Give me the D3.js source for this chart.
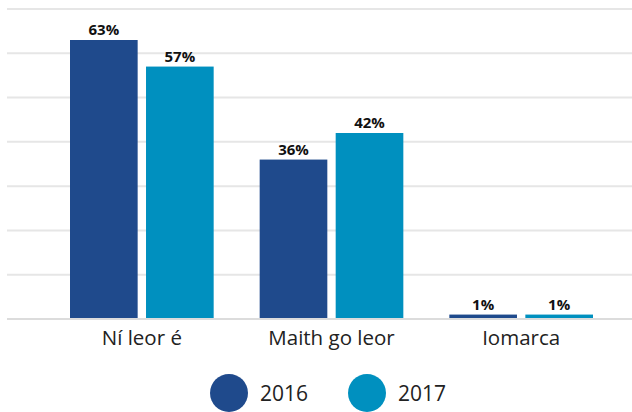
<!DOCTYPE html>
<html lang="ga">
<head>
<meta charset="utf-8"/>
<style>
    body { margin: 0; background: #fff; }
    svg { display: block; font-family: "Open Sans", sans-serif; }
    .grid line { stroke: #e6e6e6; stroke-width: 2px; }
    .val { font-size: 15px; font-weight: 700; fill: #111; text-anchor: middle; }
    .cat { font-size: 20.5px; fill: #222; text-anchor: middle; }
    .leg { font-size: 21px; fill: #222; }
</style>
<script src="https://d3js.org/d3.v7.min.js"></script>
</head>
<body>
<svg id="chart" width="632" height="412"></svg>
<script>
    var categories = ['Ní leor é', 'Maith go leor', 'Iomarca'];
    var years = ['2016', '2017'];
    var values2016 = [63, 36, 1];
    var values2017 = [57, 42, 1];
    var gridTicks = [0, 10, 20, 30, 40, 50, 60, 70];
    var colours = ['#1f4a8c', '#0090bf'];

    var svg = d3.select('#chart');
    var y = d3.scaleLinear().domain([0, 70]).range([319, 9]);
    var x0 = d3.scaleBand().domain(categories).range([47, 616]).paddingInner(0).paddingOuter(0);
    var x1 = d3.scaleBand().domain(years).range([23, x0.bandwidth() - 23]).paddingInner(0.11);

    svg.append('g').attr('class', 'grid')
        .selectAll('line').data(gridTicks).enter().append('line')
        .attr('x1', 7).attr('x2', 632)
        .attr('y1', function(d) { return y(d); })
        .attr('y2', function(d) { return y(d); })
        .style('stroke', function(d) { return d === 0 ? '#dcdcdc' : null; });

    var rows = categories.map(function(c, i) {
        return { cat: c, vals: [values2016[i], values2017[i]] };
    });

    var g = svg.selectAll('g.cat').data(rows).enter().append('g')
        .attr('class', 'cat')
        .attr('transform', function(d) { return 'translate(' + x0(d.cat) + ',0)'; });

    g.selectAll('rect').data(function(d) { return d.vals; }).enter().append('rect')
        .attr('x', function(d, i) { return x1(years[i]); })
        .attr('width', x1.bandwidth())
        .attr('y', function(d) { return y(d); })
        .attr('height', function(d) { return y(0) - 1 - y(d); })
        .attr('fill', function(d, i) { return colours[i]; });

    g.selectAll('text.val').data(function(d) { return d.vals; }).enter().append('text')
        .attr('class', 'val')
        .attr('x', function(d, i) { return x1(years[i]) + x1.bandwidth() / 2; })
        .attr('y', function(d) { return y(d) - 5; })
        .text(function(d) { return d + '%'; });

    svg.selectAll('text.cat').data(categories).enter().append('text')
        .attr('class', 'cat')
        .attr('x', function(d) { return x0(d) + x0.bandwidth() / 2; })
        .attr('y', 345)
        .text(function(d) { return d; });

    var legend = svg.selectAll('g.leg').data(years).enter().append('g')
        .attr('transform', function(d, i) { return 'translate(' + (229 + i * 138) + ',393)'; });
    legend.append('circle').attr('r', 19)
        .attr('fill', function(d, i) { return colours[i]; });
    legend.append('text').attr('class', 'leg')
        .attr('x', 31).attr('y', 8)
        .text(function(d) { return d; });
</script>
</body>
</html>
